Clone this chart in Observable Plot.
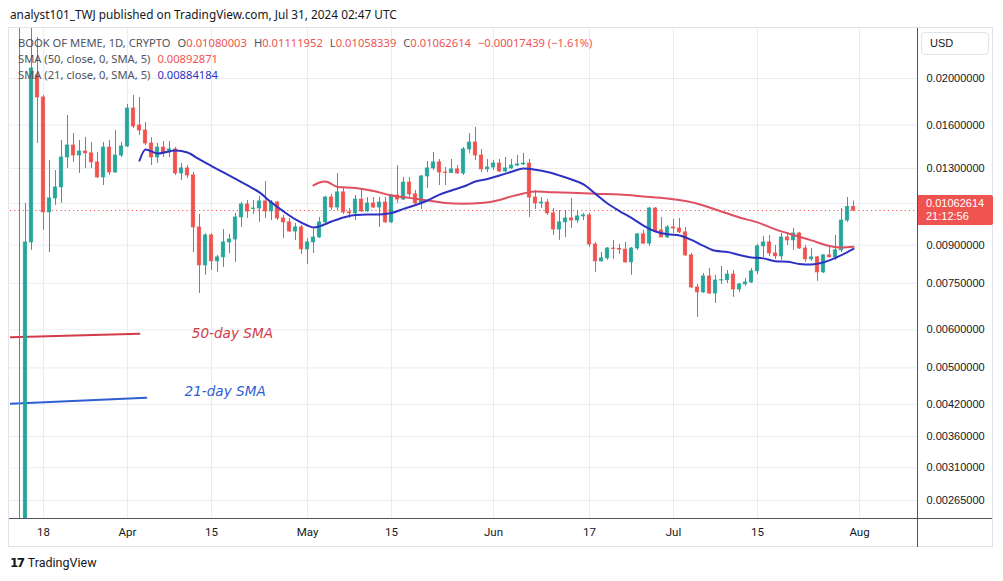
<!DOCTYPE html>
<html><head><meta charset="utf-8">
<script src="https://cdn.jsdelivr.net/npm/d3@7"></script>
<script src="https://cdn.jsdelivr.net/npm/@observablehq/plot@0.6"></script>
<style>
body{margin:0;background:#fff;width:1003px;height:581px;overflow:hidden;position:relative;font-family:"Noto Sans","Open Sans",sans-serif;color:#131722;}
.abs{position:absolute;white-space:nowrap;}
#header{left:10px;top:6px;font-size:11.8px;color:#131722;}
#frame{left:8px;top:27px;width:985px;height:520px;border:1px solid #e0e3eb;box-sizing:border-box;}
#vline{left:917px;top:28px;width:1px;height:519px;background:#50535e;}
#hline{left:9px;top:518px;width:983px;height:1px;background:#50535e;}
.leg{left:18px;font-size:11.2px;line-height:16px;color:#50535e;}
.leg .sp{margin-left:7px;}
.r{color:#ef5350}.b{color:#2e31c2}
#usd{left:921px;top:32px;width:68px;height:23px;border:1px solid #e0e3eb;border-radius:4px;box-sizing:border-box;font-size:11px;line-height:21px;padding-left:8px;background:#fff;font-family:"Liberation Sans",Arial,sans-serif;}
#pricebox{left:918px;width:75px;height:30px;background:#ef5350;color:#fff;font-size:11px;line-height:13px;padding:2px 0 0 8px;box-sizing:border-box;border-radius:0 2px 2px 0;font-family:"Liberation Sans",Arial,sans-serif;}
#logo{left:10px;top:555px;font-size:12.5px;color:#131722;font-family:"Liberation Sans Narrow","Roboto",sans-serif;}
#logo b{font-family:"DejaVu Sans",sans-serif;font-weight:900;letter-spacing:-1.5px;margin-right:4px;font-size:12px;}
#chart{left:10px;top:28px;}
</style></head><body>
<div id="frame" class="abs"></div>
<div id="header" class="abs">analyst101_TWJ published on TradingView.com, Jul 31, 2024 02:47 UTC</div>
<div id="chart" class="abs"></div>
<div id="vline" class="abs"></div>
<div id="hline" class="abs"></div>
<div id="leg1" class="abs leg" style="top:35px"></div>
<div id="leg2" class="abs leg" style="top:51px"></div>
<div id="leg3" class="abs leg" style="top:67px"></div>
<div id="usd" class="abs">USD</div>
<div id="pricebox" class="abs"></div>
<div id="logo" class="abs"><b>17</b>TradingView</div>
<script>
// ---- data ----
const symbolName = "BOOK OF MEME, 1D, CRYPTO";
const firstDay = "2024-03-14";
const open = [0.00080,0.00220,0.00912,0.02029,0.01826,0.01053,0.01126,0.01187,0.01370,0.01451,
0.01383,0.01410,0.01397,0.01338,0.01245,0.01437,0.01275,0.01383,0.01444,0.01732,
0.01597,0.01559,0.01465,0.01370,0.01437,0.01403,0.01424,0.01269,0.01300,0.01257,
0.00980,0.00817,0.00943,0.00833,0.00849,0.00912,0.00925,0.01028,0.01094,0.01070,
0.01073,0.01110,0.01058,0.01104,0.01023,0.01004,0.00961,0.00980,0.00882,0.00912,
0.00934,0.01004,0.01131,0.01078,0.01159,0.01053,0.01048,0.01120,0.01058,0.01099,
0.01078,0.01104,0.01004,0.01142,0.01120,0.01215,0.01148,0.01099,0.01251,0.01300,
0.01338,0.01275,0.01272,0.01294,0.01269,0.01424,0.01472,0.01383,0.01294,0.01306,
0.01331,0.01281,0.01300,0.01318,0.01325,0.01331,0.01131,0.01099,0.01104,0.01048,
0.00970,0.01004,0.01023,0.01013,0.01033,0.01038,0.00903,0.00833,0.00845,0.00886,
0.00884,0.00881,0.00829,0.00886,0.00948,0.00907,0.01073,0.00966,0.00934,0.00980,
0.00975,0.00957,0.00857,0.00735,0.00718,0.00775,0.00714,0.00760,0.00761,0.00782,
0.00728,0.00746,0.00753,0.00794,0.00895,0.00912,0.00865,0.00853,0.00934,0.00921,
0.00952,0.00886,0.00841,0.00849,0.00790,0.00857,0.00849,0.00878,0.01013,0.01080003];
const high = [0.03000,0.01099,0.02700,0.02434,0.01844,0.01350,0.01287,0.01486,0.01675,0.01537,
0.01486,0.01508,0.01472,0.01403,0.01472,0.01486,0.01559,0.01472,0.01766,0.01844,
0.01826,0.01620,0.01506,0.01465,0.01479,0.01479,0.01437,0.01331,0.01318,0.01275,
0.01043,0.00952,0.00952,0.00857,0.00970,0.00948,0.01048,0.01104,0.01115,0.01115,
0.01137,0.01221,0.01115,0.01110,0.01038,0.01023,0.00999,0.00989,0.00929,0.00971,
0.01028,0.01137,0.01148,0.01269,0.01187,0.01073,0.01142,0.01181,0.01131,0.01131,
0.01131,0.01131,0.01148,0.01318,0.01245,0.01245,0.01170,0.01257,0.01344,0.01403,
0.01357,0.01306,0.01357,0.01318,0.01437,0.01537,0.01582,0.01424,0.01357,0.01350,
0.01357,0.01370,0.01357,0.01383,0.01397,0.01357,0.01170,0.01131,0.01120,0.01073,
0.01063,0.01063,0.01126,0.01058,0.01048,0.01048,0.00912,0.00869,0.00890,0.00921,
0.00903,0.00912,0.00890,0.00952,0.00966,0.01078,0.01078,0.01028,0.00989,0.01018,
0.01023,0.00980,0.00865,0.00746,0.00786,0.00805,0.00779,0.00813,0.00797,0.00797,
0.00749,0.00767,0.00805,0.00903,0.00939,0.00943,0.00899,0.00952,0.00952,0.00975,
0.00957,0.00899,0.00886,0.00853,0.00861,0.00890,0.00943,0.01073,0.01131,0.01111952];
const low = [0.00070,0.00180,0.00878,0.01465,0.00966,0.00869,0.01089,0.01100,0.01300,0.01338,
0.01269,0.01300,0.01300,0.01239,0.01198,0.01257,0.01270,0.01370,0.01437,0.01574,
0.01522,0.01451,0.01318,0.01331,0.01370,0.01370,0.01257,0.01227,0.01239,0.00869,
0.00714,0.00779,0.00797,0.00790,0.00809,0.00865,0.00829,0.00980,0.01023,0.01043,
0.01004,0.01023,0.01013,0.01013,0.00929,0.00957,0.00921,0.00861,0.00821,0.00865,
0.00929,0.00999,0.01063,0.01063,0.01043,0.01023,0.01013,0.01053,0.01053,0.01073,
0.00980,0.00999,0.00999,0.01099,0.01115,0.01131,0.01089,0.01068,0.01181,0.01287,
0.01198,0.01198,0.01269,0.01263,0.01257,0.01397,0.01350,0.01275,0.01275,0.01287,
0.01275,0.01275,0.01294,0.01312,0.01318,0.01028,0.01068,0.01073,0.01038,0.00943,
0.00921,0.00934,0.00975,0.00999,0.01013,0.00890,0.00790,0.00829,0.00837,0.00841,
0.00861,0.00825,0.00779,0.00878,0.00903,0.00895,0.00957,0.00934,0.00929,0.00952,
0.00952,0.00853,0.00732,0.00637,0.00714,0.00711,0.00681,0.00746,0.00749,0.00701,
0.00718,0.00739,0.00749,0.00782,0.00849,0.00853,0.00841,0.00837,0.00899,0.00878,
0.00882,0.00829,0.00833,0.00757,0.00786,0.00848,0.00837,0.00869,0.01004,0.01058339];
const close = [0.00220,0.00912,0.02098,0.01826,0.01053,0.01126,0.01187,0.01370,0.01451,0.01383,
0.01410,0.01397,0.01338,0.01245,0.01437,0.01275,0.01383,0.01444,0.01732,0.01589,
0.01559,0.01465,0.01370,0.01437,0.01403,0.01424,0.01269,0.01300,0.01257,0.00980,
0.00817,0.00943,0.00833,0.00849,0.00912,0.00925,0.01028,0.01094,0.01058,0.01073,
0.01110,0.01058,0.01104,0.01023,0.01004,0.00961,0.00980,0.00882,0.00912,0.00934,
0.01004,0.01131,0.01078,0.01159,0.01053,0.01048,0.01120,0.01058,0.01099,0.01078,
0.01104,0.01004,0.01142,0.01120,0.01215,0.01148,0.01099,0.01251,0.01300,0.01338,
0.01275,0.01272,0.01294,0.01269,0.01424,0.01472,0.01383,0.01294,0.01306,0.01331,
0.01281,0.01300,0.01318,0.01325,0.01331,0.01131,0.01099,0.01104,0.01048,0.00970,
0.01004,0.01023,0.01013,0.01033,0.01038,0.00903,0.00833,0.00845,0.00886,0.00884,
0.00881,0.00829,0.00886,0.00948,0.00907,0.01073,0.00961,0.00934,0.00980,0.00975,
0.00957,0.00857,0.00735,0.00718,0.00775,0.00714,0.00760,0.00761,0.00782,0.00728,
0.00746,0.00753,0.00794,0.00895,0.00912,0.00865,0.00853,0.00934,0.00921,0.00952,
0.00886,0.00841,0.00849,0.00790,0.00857,0.00849,0.00878,0.01013,0.01080053,0.01062614];

const sma21Dates = ["2024-04-03","2024-04-04","2024-04-06","2024-04-09","2024-04-11","2024-04-13","2024-04-15","2024-04-17","2024-04-19","2024-04-21",
"2024-04-23","2024-04-25","2024-04-27","2024-04-29","2024-05-01","2024-05-02","2024-05-03","2024-05-05","2024-05-07","2024-05-09",
"2024-05-11","2024-05-13","2024-05-15","2024-05-17","2024-05-19","2024-05-21","2024-05-23","2024-05-25","2024-05-27","2024-05-29",
"2024-05-31","2024-06-02","2024-06-04","2024-06-06","2024-06-08","2024-06-10","2024-06-12","2024-06-14","2024-06-16","2024-06-18",
"2024-06-20","2024-06-22","2024-06-24","2024-06-26","2024-06-28","2024-06-30","2024-07-02","2024-07-04","2024-07-06","2024-07-08",
"2024-07-10","2024-07-12","2024-07-14","2024-07-16","2024-07-18","2024-07-20","2024-07-22","2024-07-24","2024-07-26","2024-07-28",
"2024-07-30","2024-07-31"];
const sma21Values = [0.01350,0.01424,0.01397,0.01417,0.01403,0.01357,0.01315,0.01275,0.01236,0.01198,
0.01159,0.01104,0.01058,0.01018,0.00989,0.00980,0.00985,0.01008,0.01028,0.01040,
0.01043,0.01043,0.01050,0.01071,0.01091,0.01115,0.01147,0.01170,0.01192,0.01221,
0.01236,0.01257,0.01279,0.01300,0.01292,0.01278,0.01257,0.01233,0.01204,0.01151,
0.01099,0.01060,0.01026,0.00989,0.00961,0.00948,0.00943,0.00923,0.00897,0.00876,
0.00871,0.00859,0.00849,0.00845,0.00833,0.00831,0.00823,0.00821,0.00829,0.00847,
0.00871,0.00884184];
const sma50Dates = ["2024-05-02","2024-05-03","2024-05-04","2024-05-06","2024-05-09","2024-05-12","2024-05-15","2024-05-18","2024-05-21","2024-05-24",
"2024-05-27","2024-05-30","2024-06-02","2024-06-04","2024-06-06","2024-06-08","2024-06-11","2024-06-14","2024-06-18","2024-06-22",
"2024-06-26","2024-06-30","2024-07-03","2024-07-05","2024-07-07","2024-07-09","2024-07-12","2024-07-15","2024-07-18","2024-07-21",
"2024-07-24","2024-07-27","2024-07-29","2024-07-31"];
const sma50Values = [0.01198,0.01215,0.01221,0.01190,0.01184,0.01167,0.01142,0.01129,0.01115,0.01102,
0.01098,0.01102,0.01118,0.01137,0.01153,0.01164,0.01160,0.01157,0.01151,0.01147,
0.01137,0.01126,0.01112,0.01098,0.01078,0.01058,0.01028,0.01004,0.00971,0.00945,
0.00921,0.00897,0.00890,0.00892871];

const yTicks = [0.02, 0.016, 0.013, 0.011, 0.009, 0.0075, 0.006, 0.005, 0.0042, 0.0036, 0.0031, 0.00265];
const xTickDates = ["2024-03-18","2024-04-01","2024-04-15","2024-05-01","2024-05-15","2024-06-01","2024-06-17","2024-07-01","2024-07-15","2024-08-01"];
const xTickLabels = ["18","Apr","15","May","15","Jun","17","Jul","15","Aug"];

const note50Dates = ["2024-03-12T12:00Z","2024-04-03T00:00Z"];
const note50Values = [0.005794, 0.005889];
const note21Dates = ["2024-03-12T12:00Z","2024-04-04T03:00Z"];
const note21Values = [0.004211, 0.004334];
const noteLabels = ["50-day SMA","21-day SMA"];
const noteLabelDates = ["2024-04-11T17:00Z","2024-04-10T12:00Z"];
const noteLabelValues = [0.00589, 0.004454];

const xDomain = ["2024-03-12T12:00Z","2024-08-10T20:00Z"];
const yDomain = [0.002431, 0.02541];

// ---- build ----
const UP = "#26a69a", DOWN = "#ef5350";
const start = new Date(firstDay + "T00:00Z");
const candles = open.map((o, i) => ({
  date: d3.utcDay.offset(start, i), open: o, high: high[i], low: low[i], close: close[i],
  color: close[i] >= o ? UP : DOWN
}));
const sma21 = sma21Dates.map((d, i) => ({date: new Date(d + "T00:00Z"), v: sma21Values[i]}));
const sma50 = sma50Dates.map((d, i) => ({date: new Date(d + "T00:00Z"), v: sma50Values[i]}));
const note50 = note50Dates.map((d, i) => ({date: new Date(d), v: note50Values[i]}));
const note21 = note21Dates.map((d, i) => ({date: new Date(d), v: note21Values[i]}));
const notes = noteLabels.map((t, i) => ({t, date: new Date(noteLabelDates[i]), v: noteLabelValues[i], c: i === 0 ? "#d23c48" : "#2f5fd3"}));
const xTicks = xTickDates.map(d => new Date(d + "T00:00Z"));
const labelMap = new Map(xTicks.map((d, i) => [+d, xTickLabels[i]]));
const last = candles[candles.length - 1];
const prev = candles[candles.length - 2];
const f8 = d3.format(".8f");

const chart = Plot.plot({
  width: 985, height: 520,
  marginLeft: 0, marginRight: 77, marginTop: 0, marginBottom: 30,
  style: {background: "transparent", overflow: "visible"},
  x: {type: "utc", domain: xDomain.map(d => new Date(d))},
  y: {type: "log", domain: yDomain},
  marks: [
    Plot.gridY(yTicks, {stroke: "#e9edf3", strokeOpacity: 1}),
    Plot.gridX(xTicks, {stroke: "#e9edf3", strokeOpacity: 1}),
    Plot.axisY(yTicks, {anchor: "right", tickSize: 0, tickPadding: 8, tickFormat: f8, fontSize: 11, color: "#131722", fontFamily: "Liberation Sans, Arial, sans-serif"}),
    Plot.axisX(xTicks, {tickSize: 0, tickPadding: 9, tickFormat: d => labelMap.get(+d), fontSize: 11.5, color: "#131722", fontFamily: "Liberation Sans Narrow, Roboto, sans-serif"}),
    Plot.ruleY([last.close], {stroke: DOWN, strokeDasharray: "1.2,3", strokeWidth: 1}),
    Plot.line(note50, {x: "date", y: "v", stroke: "#d23c48", strokeWidth: 2, clip: true}),
    Plot.line(note21, {x: "date", y: "v", stroke: "#2f5fd3", strokeWidth: 2, clip: true}),
    Plot.text(notes, {x: "date", y: "v", text: "t", fill: "c", textAnchor: "start", fontSize: 13.6, fontStyle: "italic", fontFamily: "DejaVu Sans, Noto Sans, sans-serif"}),
    Plot.ruleX(candles, {x: "date", y1: "low", y2: "high", stroke: "color", strokeWidth: 1, clip: true}),
    Plot.rect(candles, {x1: d => d3.utcHour.offset(d.date, -7), x2: d => d3.utcHour.offset(d.date, 7), y1: "open", y2: "close", fill: "color", stroke: "color", strokeWidth: 0.7, clip: true}),
    Plot.line(sma50, {x: "date", y: "v", stroke: "#e04f5f", strokeWidth: 2, curve: "monotone-x", clip: true}),
    Plot.line(sma21, {x: "date", y: "v", stroke: "#2e31c2", strokeWidth: 2, curve: "monotone-x", clip: true})
  ]
});
document.getElementById("chart").appendChild(chart);

// legend
const chg = last.close - prev.close;
const pct = chg / prev.close * 100;
const neg = s => s.replace("-", "\u2212");
document.getElementById("leg1").innerHTML =
  `${symbolName}<span class="sp">O</span><span class="r">${f8(last.open)}</span><span class="sp">H</span><span class="r">${f8(last.high)}</span><span class="sp">L</span><span class="r">${f8(last.low)}</span><span class="sp">C</span><span class="r">${f8(last.close)}</span><span class="r sp">${neg(f8(chg))} (${neg(pct.toFixed(2))}%)</span>`;
document.getElementById("leg2").innerHTML = `SMA (50, close, 0, SMA, 5)<span class="r sp">${f8(sma50Values[sma50Values.length-1])}</span>`;
document.getElementById("leg3").innerHTML = `SMA (21, close, 0, SMA, 5)<span class="b sp">${f8(sma21Values[sma21Values.length-1])}</span>`;

// last price label
const py = chart.scale("y").apply(last.close) + 28;
const pb = document.getElementById("pricebox");
pb.style.top = (py - 15) + "px";
pb.innerHTML = `${f8(last.close)}<br>21:12:56`;
</script>
</body></html>
